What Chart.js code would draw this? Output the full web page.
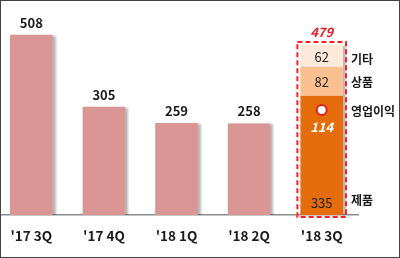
<!DOCTYPE html>
<html>
<head>
<meta charset="utf-8">
<script src="https://cdn.jsdelivr.net/npm/chart.js@4.4.1/dist/chart.umd.min.js"></script>
<style>
  html, body { margin: 0; padding: 0; background: #fff; }
  #wrap { position: relative; width: 400px; height: 258px; overflow: hidden; }
  #box { position: absolute; left: -5px; top: 0; width: 405px; height: 258px; }
  #frame { position: absolute; left: 0; top: 0; width: 398px; height: 256px; border: 1px solid #444; pointer-events: none; }
</style>
</head>
<body>
<div id="wrap">
  <div id="box"><canvas id="chart"></canvas></div>
  <div id="frame"></div>
</div>
<script>
// 분기 매출 (억원)
const categories = ["'17 3Q", "'17 4Q", "'18 1Q", "'18 2Q", "'18 3Q"];
const totalSales = [508, 305, 259, 258, null];
const productSales = [null, null, null, null, 335];   // 제품
const goodsSales = [null, null, null, null, 82];      // 상품
const otherSales = [null, null, null, null, 62];      // 기타
const operatingProfit = 114;                          // 영업이익
const stackTotal = 479;
const seriesNames = ['제품', '상품', '기타', '영업이익'];

const FONT = '"Noto Sans CJK KR", "Noto Sans", sans-serif';

// 막대 그림자
const shadowPlugin = {
    id: 'barShadow',
    beforeDatasetDraw(chart, args) {
        const ctx = chart.ctx;
        ctx.save();
        ctx.shadowColor = 'rgba(0,0,0,0.28)';
        ctx.shadowOffsetX = 3;
        ctx.shadowOffsetY = 1;
        ctx.shadowBlur = 2;
    },
    afterDatasetDraw(chart) {
        chart.ctx.restore();
    }
};

// 라벨, 점선 박스
const labelPlugin = {
    id: 'labels',
    afterDatasetsDraw(chart) {
        const ctx = chart.ctx;
        const area = chart.chartArea;
        ctx.save();
        ctx.textAlign = 'center';
        ctx.textBaseline = 'middle';

        // 기존 분기 값
        ctx.font = 'bold 13px ' + FONT;
        ctx.fillStyle = '#1a1a1a';
        chart.getDatasetMeta(0).data.forEach((bar, i) => {
            if (totalSales[i] == null) return;
            ctx.fillText(totalSales[i], bar.x, bar.y - 12);
        });

        const pBar = chart.getDatasetMeta(1).data[4];
        const gBar = chart.getDatasetMeta(2).data[4];
        const oBar = chart.getDatasetMeta(3).data[4];

        ctx.font = '13px ' + FONT;
        ctx.fillStyle = '#222';
        ctx.fillText(otherSales[4], oBar.x, (oBar.y + oBar.base) / 2 + 1);
        ctx.fillText(goodsSales[4], gBar.x, (gBar.y + gBar.base) / 2 + 1);
        ctx.fillText(productSales[4], pBar.x, pBar.base - 12);

        // 영업이익 표시
        const cy = pBar.y + 14;
        ctx.beginPath();
        ctx.arc(pBar.x, cy, 5, 0, Math.PI * 2);
        ctx.fillStyle = '#fff';
        ctx.fill();
        ctx.lineWidth = 2;
        ctx.strokeStyle = '#e02020';
        ctx.stroke();
        ctx.font = 'italic bold 13px ' + FONT;
        ctx.fillStyle = '#fff';
        ctx.fillText(operatingProfit, pBar.x, cy + 17);

        // 합계
        ctx.fillStyle = '#e8202a';
        ctx.fillText(stackTotal, oBar.x, oBar.y - 13);

        // 점선 박스
        const half = oBar.width / 2 + 3;
        ctx.setLineDash([5, 3]);
        ctx.lineWidth = 2;
        ctx.strokeStyle = '#ff2020';
        ctx.strokeRect(oBar.x - half, oBar.y - 3, half * 2, pBar.base - oBar.y + 5);
        ctx.setLineDash([]);

        // 범례 라벨
        ctx.textAlign = 'left';
        ctx.font = 'bold 12px ' + FONT;
        ctx.fillStyle = '#1a1a1a';
        const lx = area.right - 7;
        ctx.fillText(seriesNames[2], lx, (oBar.y + oBar.base) / 2 + 3);
        ctx.fillText(seriesNames[1], lx, (gBar.y + gBar.base) / 2 + 1);
        ctx.fillText(seriesNames[3], lx, cy + 1);
        ctx.fillText(seriesNames[0], lx, pBar.base - 15);
        ctx.restore();
    }
};

new Chart(document.getElementById('chart'), {
    type: 'bar',
    data: {
        labels: categories,
        datasets: [
            { data: totalSales, backgroundColor: '#d99694' },
            { label: '제품', data: productSales, backgroundColor: '#e46c0a' },
            { label: '상품', data: goodsSales, backgroundColor: '#fac090' },
            { label: '기타', data: otherSales, backgroundColor: '#fde9d9' }
        ]
    },
    options: {
        responsive: true,
        maintainAspectRatio: false,
        animation: false,
        categoryPercentage: 1,
        barPercentage: 0.587,
        layout: {
            padding: { top: 2, left: 0, right: 42, bottom: 0 }
        },
        plugins: {
            legend: { display: false },
            tooltip: { enabled: false }
        },
        scales: {
            x: {
                stacked: true,
                afterFit(scale) { scale.height = 43; },
                grid: { display: false, drawTicks: false },
                border: { display: true, color: '#8c8c8c', width: 1.5 },
                ticks: {
                    padding: 13,
                    color: '#1a1a1a',
                    font: { family: FONT, size: 13.5, weight: 'bold' }
                }
            },
            y: {
                stacked: true,
                display: false,
                min: 0,
                max: 600
            }
        }
    },
    plugins: [shadowPlugin, labelPlugin]
});
</script>
</body>
</html>
